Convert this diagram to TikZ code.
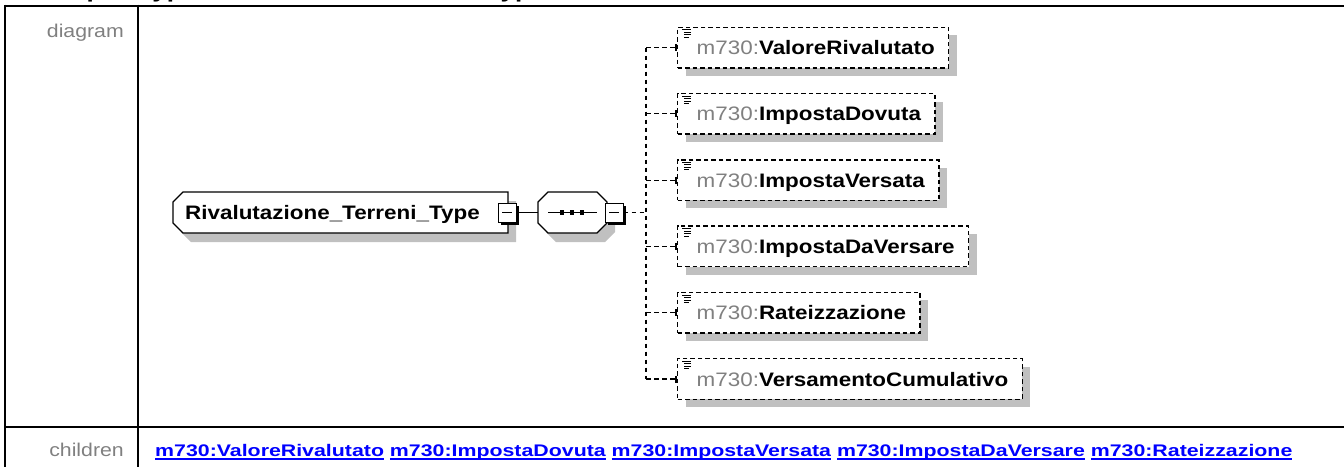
\documentclass[tikz,border=0pt]{standalone}
\usepackage{fontspec}
\setmainfont{Liberation Sans}
\newfontfamily\dfont[FakeStretch=1.15]{Liberation Sans}
\newfontfamily\lfont[FakeStretch=1.27]{Liberation Sans}
\newfontfamily\tfont[FakeStretch=1.18]{Liberation Sans}
\usetikzlibrary{shadows}
\definecolor{shgray}{HTML}{C0C0C0}
\definecolor{pfxgray}{HTML}{808080}
\definecolor{lblgray}{HTML}{808080}
\definecolor{linkblue}{HTML}{0000FF}
\newsavebox\ulbox
\newcommand\ulink[1]{\sbox\ulbox{#1}\rlap{\raisebox{-4pt}{\color{linkblue}\rule{\wd\ulbox}{1.7pt}}}\usebox\ulbox}
\newcommand\clabel[1]{\hspace*{19pt}{\mdseries\color{pfxgray}m730:}\textbf{#1}\hspace*{14pt}}
\begin{document}
\begin{tikzpicture}[x=1pt,y=-1pt,
  tbl/.style={line width=2pt, black},
  sidelbl/.style={font=\dfont\fontsize{18.5pt}{20pt}\selectfont, text=lblgray, inner sep=0pt, anchor=base east},
  childbox/.style={draw=black, line width=1.4pt, dash pattern=on 4.5pt off 3pt, fill=white,
    inner xsep=0pt, inner ysep=0pt, minimum height=40.6pt, text height=14pt, text depth=0pt,
    anchor=west, font=\dfont\fontsize{19.5pt}{22pt}\selectfont,
    drop shadow={shadow xshift=8pt,shadow yshift=-8pt,fill=shgray,opacity=1}},
  minusbox/.style={draw=black, line width=1pt, fill=white, inner sep=0pt,
    minimum width=18pt, minimum height=19pt,
    drop shadow={shadow xshift=2.8pt,shadow yshift=-2.8pt,fill=black,opacity=1}},
  conn/.style={line width=1.2pt, dash pattern=on 4.5pt off 3.5pt},
  solidconn/.style={line width=1.3pt},
  shapeline/.style={draw=black, line width=1.3pt, fill=white},
  iconline/.style={line width=1pt},
]
\useasboundingbox (0,0) rectangle (1344,467);

% title (cut off at the top)
\begin{scope}
\clip (0,0) rectangle (1344,467);
\node[anchor=base west, inner sep=0pt, font=\tfont\bfseries\fontsize{22pt}{24pt}\selectfont] (title) at (33,-2.5) {complexType Rivalutazione\_Terreni\_Type};
\end{scope}

% table
\draw[tbl] (5,5.5) -- (1344,5.5);
\draw[tbl] (5,427) -- (1344,427);
\draw[tbl] (5,4.5) -- (5,467);
\draw[tbl] (138,4.5) -- (138,467);

\node[sidelbl] (dlab) at (124,37) {diagram};
\node[sidelbl] (clab) at (124,456) {children};

% main complexType box
\begin{scope}[shift={(8,9)}]
\fill[shgray] (173,202) -- (183,192) -- (508,192) -- (508,233) -- (183,233) -- (173,223) -- cycle;
\end{scope}
\path[shapeline] (173,202) -- (183,192) -- (508,192) -- (508,233) -- (183,233) -- (173,223) -- cycle;
\node[anchor=base west, inner sep=0pt, font=\dfont\bfseries\fontsize{19.5pt}{22pt}\selectfont] (main) at (185,219.5) {Rivalutazione\_Terreni\_Type};

% sequence box
\begin{scope}[shift={(8,9)}]
\fill[shgray] (538,202) -- (548,192) -- (597,192) -- (607,202) -- (607,223) -- (597,233) -- (548,233) -- (538,223) -- cycle;
\end{scope}
\path[shapeline] (538,202) -- (548,192) -- (597,192) -- (607,202) -- (607,223) -- (597,233) -- (548,233) -- (538,223) -- cycle;
\node[inner sep=0pt, minimum width=69pt, minimum height=41pt] (seq) at (572.5,212.5) {};
\draw[solidconn] (548,212.5) -- (597,212.5);
\foreach \cx in {562,572,582} \fill (\cx-2.2,210.3) rectangle (\cx+2.2,214.7);

% minus boxes
\node[minusbox] (mm) at (507,212.5) {};
\draw[line width=1.2pt] ([xshift=-5pt]mm.center) -- ([xshift=5pt]mm.center);
\node[minusbox] (sm) at (614,212.5) {};
\draw[line width=1.2pt] ([xshift=-5pt]sm.center) -- ([xshift=5pt]sm.center);

\draw[solidconn] (mm.east) -- (seq.west);

% children
\foreach \i/\cy/\nm in {1/47.5/ValoreRivalutato, 2/113.8/ImpostaDovuta, 3/180.1/ImpostaVersata, 4/246.4/ImpostaDaVersare, 5/312.7/Rateizzazione, 6/379/VersamentoCumulativo}{
  \node[childbox] (c\i) at (677,\cy) {\clabel{\nm}};
  \foreach \dy/\xa/\xb in {3.3/5/14, 5.8/7/14, 8.3/7/14, 10.8/7/12}
    \draw[iconline] ([shift={(\xa,\dy)}]c\i.north west) -- ([shift={(\xb,\dy)}]c\i.north west);
  \coordinate (t\i) at (646,\cy);
  \draw[conn] (t\i) -- (c\i.west);
  \draw[line width=1.2pt] ([shift={(-1,-3.5)}]c\i.west) -- ([shift={(-1,3.5)}]c\i.west);
}
\draw[conn] (t1) -- (t6);
\draw[conn] (sm.east) -- (sm.east -| t1);

% children links
\node[anchor=base west, inner sep=0pt, font=\lfont\bfseries\fontsize{16.8pt}{19pt}\selectfont, text=linkblue] (kids) at (155,456)
 {\ulink{m730:ValoreRivalutato} \ulink{m730:ImpostaDovuta} \ulink{m730:ImpostaVersata} \ulink{m730:ImpostaDaVersare} \ulink{m730:Rateizzazione}};
\end{tikzpicture}
\end{document}
